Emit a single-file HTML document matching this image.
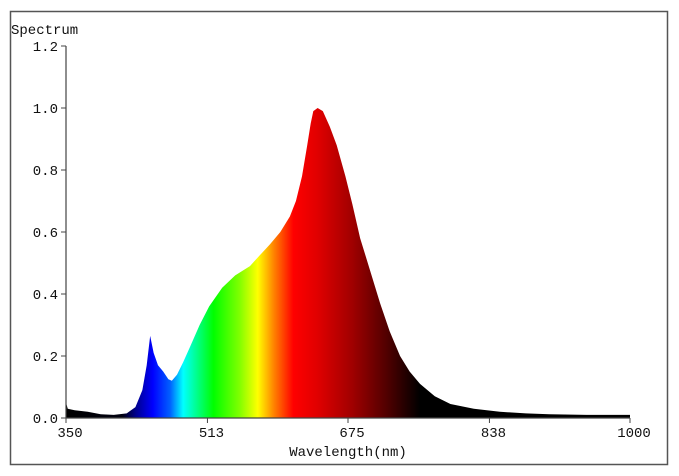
<!DOCTYPE html>
<html><head><meta charset="utf-8">
<style>
html,body{margin:0;padding:0;background:#fff;width:679px;height:476px;overflow:hidden}
svg text{font-family:"Liberation Mono",monospace;fill:#111}
</style></head>
<body>
<svg id="chart" width="679" height="476" viewBox="0 0 679 476" xmlns="http://www.w3.org/2000/svg">
<defs>
<linearGradient id="spec" gradientUnits="userSpaceOnUse" x1="66" y1="0" x2="630" y2="0"></linearGradient>
<clipPath id="areaClip"><path id="clipPathShape"></path></clipPath>
</defs>
<rect x="10.5" y="11.5" width="657" height="453" fill="#fff" stroke="#555" stroke-width="1.5"/>
<text x="11" y="34" font-size="14">Spectrum</text>
<text x="348" y="456" font-size="14" text-anchor="middle">Wavelength(nm)</text>
<g id="ticks"></g>
<rect id="areaFill" x="66" y="40" width="564" height="380" fill="url(#spec)" clip-path="url(#areaClip)"/>
<line x1="66" y1="46" x2="66" y2="418" stroke="#444" stroke-width="1.2"/>
<line x1="66" y1="418" x2="630" y2="418" stroke="#444" stroke-width="1.2"/>
</svg>
<script>
const wavelengths=[350,352,360,375,390,405,420,430,438,443,447,451,456,462,468,472,478,485,493,504,515,530,545,562,575,585,597,608,615,622,628,632,635,640,646,654,662,672,680,689,700,712,723,735,746,758,775,793,820,850,880,907,950,1000];
const intensities=[0.05,0.03,0.025,0.02,0.012,0.01,0.015,0.035,0.09,0.17,0.265,0.21,0.17,0.15,0.125,0.12,0.14,0.18,0.23,0.3,0.36,0.42,0.46,0.49,0.53,0.56,0.6,0.65,0.7,0.78,0.88,0.95,0.99,1.0,0.99,0.94,0.88,0.78,0.69,0.58,0.48,0.37,0.28,0.2,0.15,0.11,0.07,0.045,0.03,0.02,0.015,0.012,0.01,0.01];
const yTicks=[0,0.2,0.4,0.6,0.8,1.0,1.2];
const xTicks=[350,513,675,838,1000];
const colorStops=[[350,"#000000"],[415,"#000010"],[430,"#00008a"],[450,"#0000ff"],[470,"#0060ff"],[485,"#00ffff"],[500,"#00ff90"],[520,"#00ff00"],[550,"#80ff00"],[571,"#ffff00"],[590,"#ff8000"],[612,"#ff0000"],[640,"#e00000"],[680,"#a00000"],[720,"#500000"],[758,"#000000"],[1000,"#000000"]];
const X0=66,X1=630,Y0=418,Y1=46;
const xs=w=>X0+(w-350)/(1000-350)*(X1-X0);
const ys=v=>Y0-v/1.2*(Y0-Y1);
const NS="http://www.w3.org/2000/svg";
const grad=document.getElementById('spec');
colorStops.forEach(s=>{const st=document.createElementNS(NS,'stop');st.setAttribute('offset',((s[0]-350)/650).toFixed(4));st.setAttribute('stop-color',s[1]);grad.appendChild(st);});
let d='M'+xs(wavelengths[0])+','+Y0;
wavelengths.forEach((w,i)=>{d+=' L'+xs(w).toFixed(2)+','+ys(intensities[i]).toFixed(2);});
d+=' L'+xs(wavelengths[wavelengths.length-1])+','+Y0+' Z';
document.getElementById('clipPathShape').setAttribute('d',d);
const g=document.getElementById('ticks');
yTicks.forEach(v=>{
 const l=document.createElementNS(NS,'line');
 
 
 l.setAttribute('x1',X0-5);l.setAttribute('x2',X0);l.setAttribute('y1',ys(v));l.setAttribute('y2',ys(v));l.setAttribute('stroke','#444');g.appendChild(l);
 const t=document.createElementNS(NS,'text');
 
 
 t.setAttribute('x',X0-8);t.setAttribute('y',ys(v)+5);t.setAttribute('font-size','14');t.setAttribute('text-anchor','end');t.textContent=v.toFixed(1);g.appendChild(t);
});
xTicks.forEach(v=>{
 const l=document.createElementNS(NS,'line');
 
 
 l.setAttribute('x1',xs(v));l.setAttribute('x2',xs(v));l.setAttribute('y1',Y0);l.setAttribute('y2',Y0+5);l.setAttribute('stroke','#444');g.appendChild(l);
 const t=document.createElementNS(NS,'text');
 
 
 t.setAttribute('x',xs(v)+4);t.setAttribute('y',Y0+19);t.setAttribute('font-size','14');t.setAttribute('text-anchor','middle');t.textContent=v;g.appendChild(t);
});
</script>
</body></html>
